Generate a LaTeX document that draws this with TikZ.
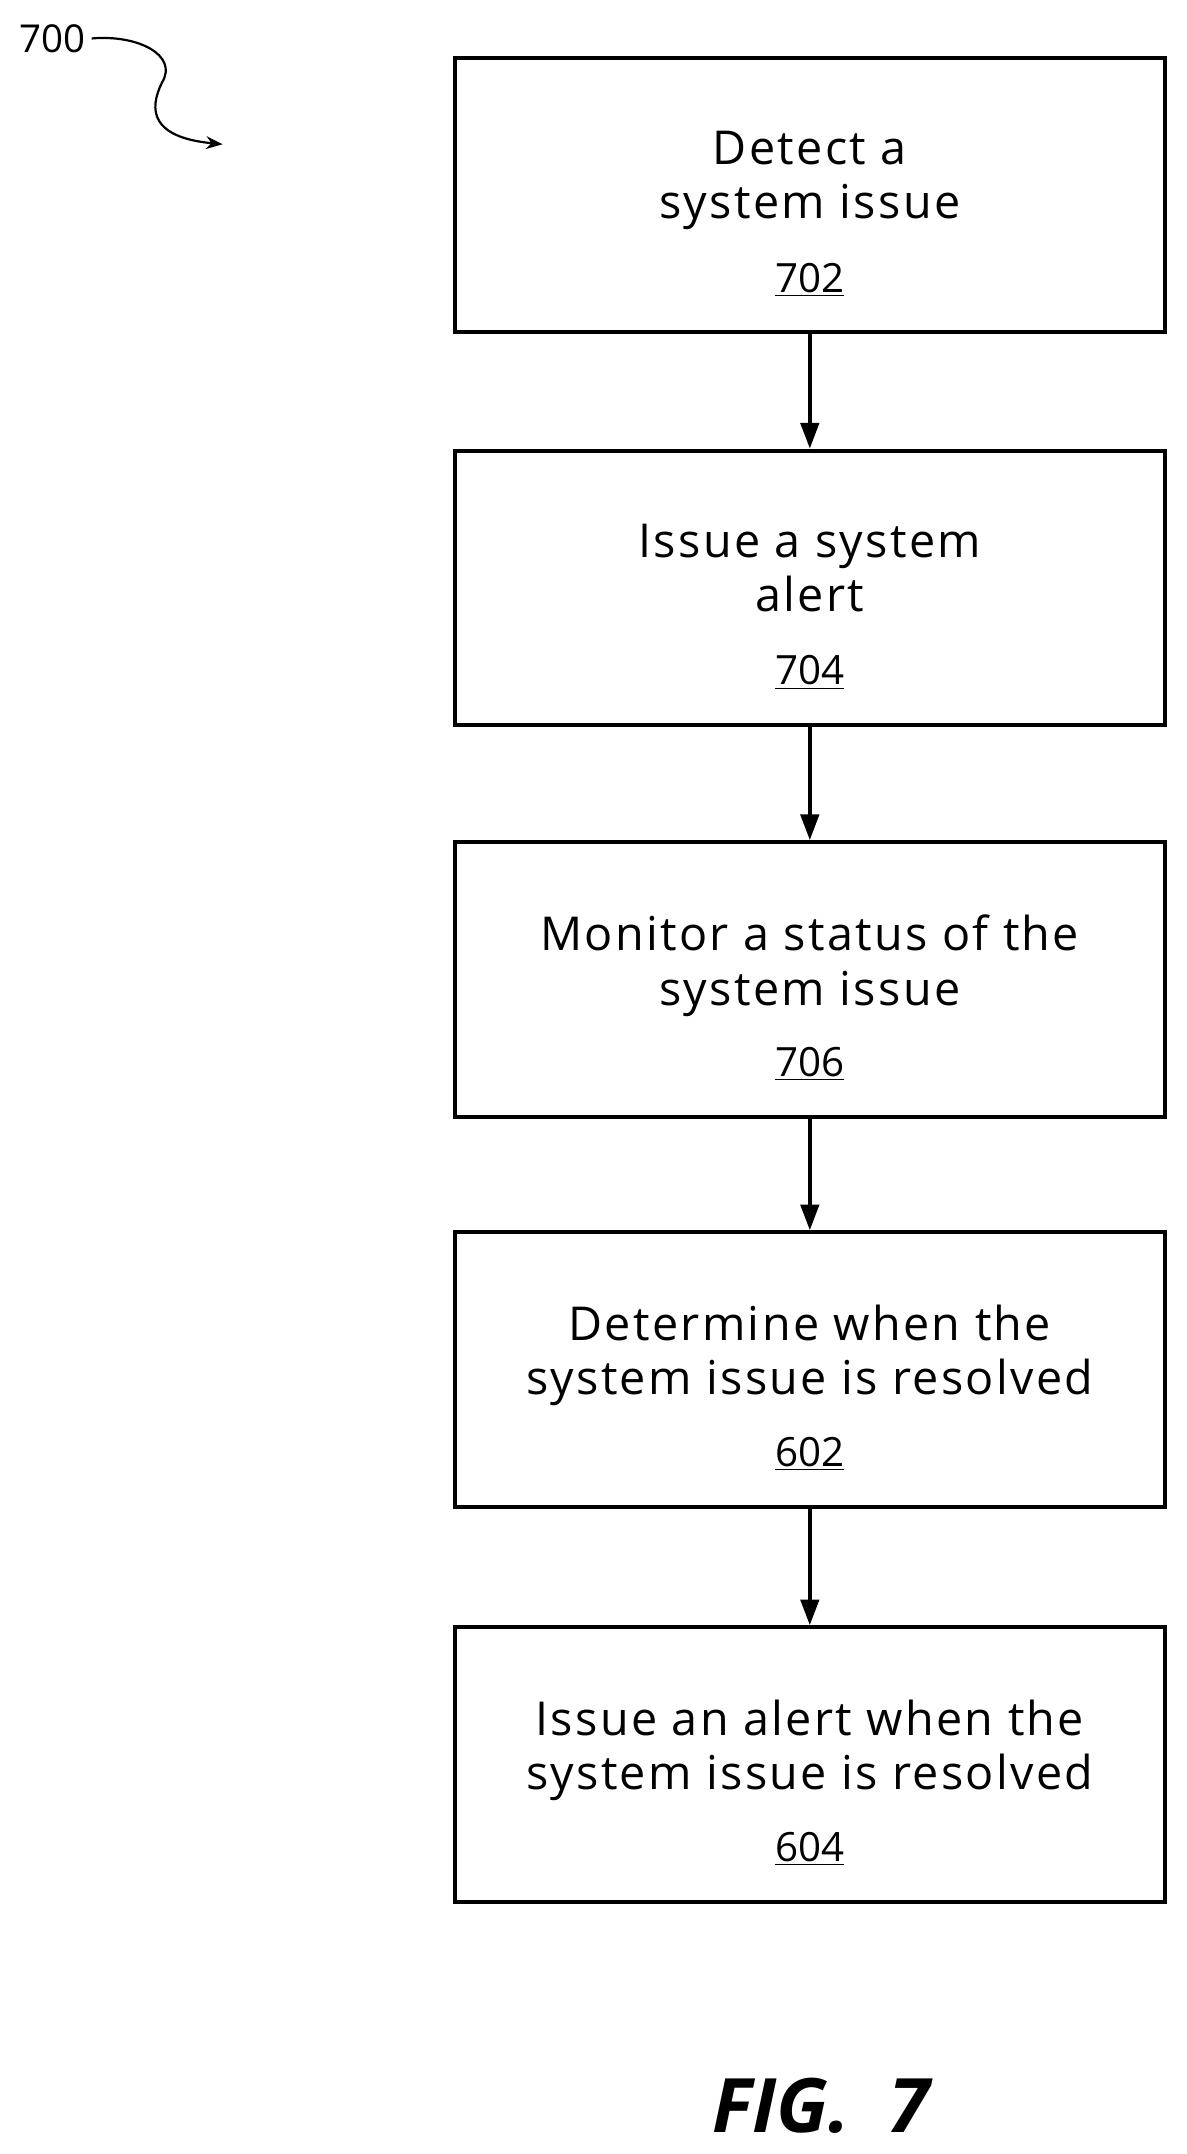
\documentclass[tikz,border=0pt]{standalone}
\usepackage{fontspec}
\setmainfont{Open Sans}
\newfontfamily\wide[LetterSpace=5]{Open Sans}
\usetikzlibrary{arrows.meta}
\begin{document}
\begin{tikzpicture}[x=0.75pt,y=-0.75pt,
  box/.style={draw,line width=2.2pt,minimum width=517*0.75pt,minimum height=200*0.75pt,inner sep=0pt},
  txt/.style={font=\wide\fontsize{25.5}{29.5}\selectfont,align=center},
  num/.style={font=\fontsize{22}{24}\selectfont},
  arr/.style={line width=2pt,-{Triangle[length=14pt,width=10pt]}}]
\useasboundingbox (0,0) rectangle (864,1568);
\node[box] (b1) at (589.5,142) {};
\node[box] (b2) at (589.5,428) {};
\node[box] (b3) at (589.5,713) {};
\node[box] (b4) at (589.5,997) {};
\node[box] (b5) at (589.5,1284.5) {};
\foreach \b/\la/\lb/\n in {b1/Detect a/system issue/702, b2/Issue a system/alert/704, b3/Monitor a status of the/system issue/706, b4/Determine when the/system issue is resolved/602, b5/Issue an alert when the/system issue is resolved/604}{
  \node[txt] (\b t) at ([yshift=-37.5pt]\b.north) [anchor=north] {\la\\\lb};
  \node[num] (\b n) at ([yshift=30pt]\b.south) {\underline{\n}};
}
\draw[arr] (b1) -- (b2);
\draw[arr] (b2) -- (b3);
\draw[arr] (b3) -- (b4);
\draw[arr] (b4) -- (b5);
\node[font=\fontsize{21}{24}\selectfont] (lab) at (38,28) {700};
\coordinate (tip) at (162,105);
\draw[line width=1.2pt,-{Stealth[length=9pt,width=7pt]}] (lab.east) .. controls (100,25) and (130,40) .. (118,60) .. controls (108,80) and (110,100) .. (tip);
\node[font=\fontsize{41}{46}\selectfont\bfseries\itshape] (fig) at (598,1533) {FIG.~~7};
\end{tikzpicture}
\end{document}
